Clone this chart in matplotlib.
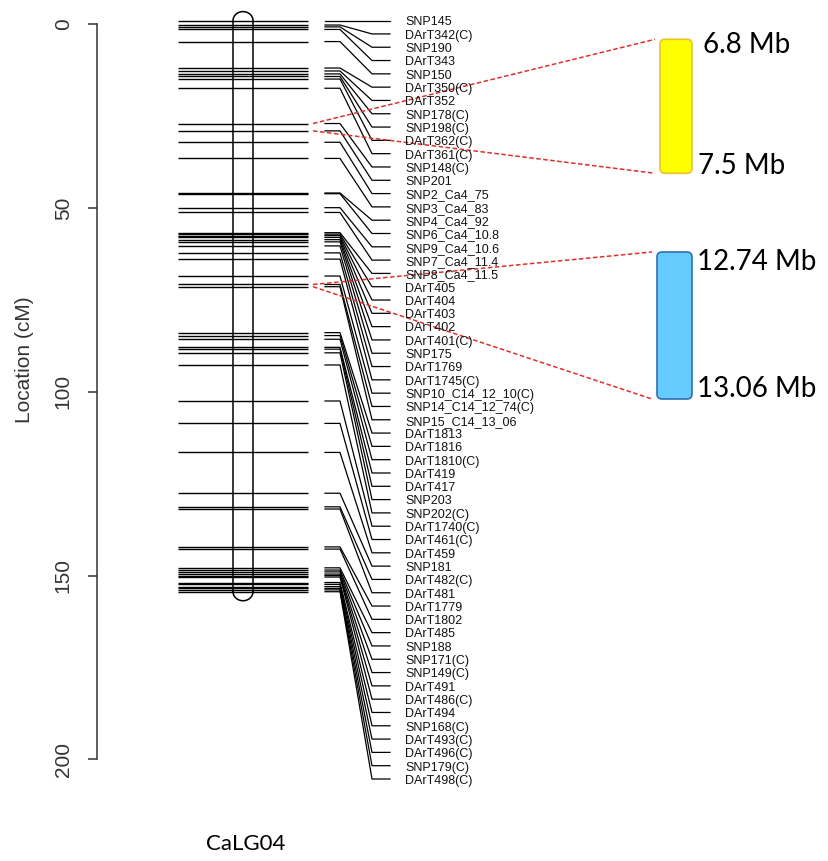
import numpy as np
import matplotlib
matplotlib.use("Agg")
import matplotlib.pyplot as plt
from matplotlib.patches import FancyBboxPatch

# marker names, top to bottom
markers = [
    "SNP145", "DArT342(C)", "SNP190", "DArT343", "SNP150", "DArT350(C)", "DArT352",
    "SNP178(C)", "SNP198(C)", "DArT362(C)", "DArT361(C)", "SNP148(C)", "SNP201",
    "SNP2_Ca4_75", "SNP3_Ca4_83", "SNP4_Ca4_92", "SNP6_Ca4_10.8", "SNP9_Ca4_10.6",
    "SNP7_Ca4_11.4", "SNP8_Ca4_11.5", "DArT405", "DArT404", "DArT403", "DArT402",
    "DArT401(C)", "SNP175", "DArT1769", "DArT1745(C)", "SNP10_C14_12_10(C)",
    "SNP14_C14_12_74(C)", "SNP15_C14_13_06", "DArT1813", "DArT1816", "DArT1810(C)",
    "DArT419", "DArT417", "SNP203", "SNP202(C)", "DArT1740(C)", "DArT461(C)",
    "DArT459", "SNP181", "DArT482(C)", "DArT481", "DArT1779", "DArT1802", "DArT485",
    "SNP188", "SNP171(C)", "SNP149(C)", "DArT491", "DArT486(C)", "DArT494",
    "SNP168(C)", "DArT493(C)", "DArT496(C)", "SNP179(C)", "DArT498(C)",
]

# map positions (cM)
positions = [
    -1.0, 0.2, 0.7, 1.4, 4.7, 11.9, 12.7, 13.5, 14.2, 14.9,
    17.4, 27.0, 29.0, 32.1, 36.5, 45.9, 46.1, 49.9, 51.2, 56.7,
    57.1, 57.5, 58.0, 58.6, 59.2, 60.3, 62.2, 63.9, 68.5, 70.8,
    71.4, 83.9, 84.7, 85.7, 87.9, 88.4, 89.4, 92.7, 102.5, 108.6,
    116.5, 127.6, 131.3, 131.9, 142.2, 142.8, 147.9, 148.5, 149.0, 149.6,
    150.0, 150.4, 151.9, 152.4, 153.0, 153.5, 153.9, 154.4,
]

# physical intervals (Mb) and the markers they link to
interval_labels = [("6.8 Mb", "7.5 Mb"), ("12.74 Mb", "13.06 Mb")]
interval_markers = [("SNP148(C)", "SNP201"), ("SNP14_C14_12_74(C)", "SNP15_C14_13_06")]

W, H = 829, 861
px_per_cm = 3.675
y0 = 24.3  # pixel row of 0 cM


def cm(py):
    return (py - y0) / px_per_cm


fig = plt.figure(figsize=(W / 100, H / 100), dpi=100)
ax = fig.add_axes([97 / W, 0, 1 - 97 / W, 1])
ax.set_xlim(97, W)
ax.set_ylim(cm(H), cm(0))

for s in ["top", "right", "bottom"]:
    ax.spines[s].set_visible(False)
ax.spines["left"].set_bounds(0, 200)
ax.spines["left"].set_color("#333333")
ax.spines["left"].set_linewidth(1.1)
ax.set_xticks([])
ax.set_yticks([0, 50, 100, 150, 200])
ax.tick_params(axis="y", length=6.5, width=1.1, color="#333333", pad=11,
               labelsize=15, labelcolor="#333333")
for lab in ax.get_yticklabels():
    lab.set_rotation(90)
    lab.set_va("center")
    lab.set_family("Liberation Sans")

fig.text(25 / W, 1 - 360 / H, "Location (cM)", rotation=90, ha="center", va="center",
         fontsize=15, color="#333333", family="Liberation Sans")

pos = np.array(positions)

# marker lines across the chromosome
ax.hlines(pos, 178, 308, color="black", lw=1.0)

# chromosome outline
cx, hw, cap = 243, 10, 2.45
ax.vlines([cx - hw, cx + hw], pos[0], pos[-1], color="black", lw=1.1)
t = np.linspace(0, np.pi, 60)
ax.plot(cx + hw * np.cos(t), pos[0] - cap * np.sin(t), color="black", lw=1.1)
ax.plot(cx + hw * np.cos(t), pos[-1] + cap * np.sin(t), color="black", lw=1.1)

# labels spread evenly, joined to their markers
lab_y = np.linspace(pos[0], cm(779), len(markers))
for p, q, name in zip(pos, lab_y, markers):
    ax.plot([325, 340, 372, 390], [p, p, q, q], color="black", lw=0.9)
    ax.text(405, q + 0.5, name, fontsize=9, va="center", ha="left",
            family="Liberation Sans", color="#111111")

# physical blocks
boxes = [
    dict(x=660, w=32, top=cm(39.3), bot=cm(173.3), fc="#FFFF00", ec="#E8C431"),
    dict(x=657, w=35, top=cm(252), bot=cm(399), fc="#66CCFF", ec="#2F6FAE"),
]
for b, (lt, lb), (m1, m2) in zip(boxes, interval_labels, interval_markers):
    ax.add_patch(FancyBboxPatch((b["x"], b["top"]), b["w"], b["bot"] - b["top"],
                                boxstyle="round,pad=0,rounding_size=5",
                                mutation_aspect=1 / px_per_cm,
                                fc=b["fc"], ec=b["ec"], lw=1.2))
    p1 = positions[markers.index(m1)]
    p2 = positions[markers.index(m2)]
    ax.plot([313, b["x"] - 5], [p1, b["top"]], color="#E0302C", lw=1.1,
            ls=(0, (3, 1.6)))
    ax.plot([313, b["x"] - 5], [p2, b["bot"]], color="#E0302C", lw=1.1,
            ls=(0, (3, 1.6)))

ax.text(703, cm(45), interval_labels[0][0], fontsize=20, family="Lato", va="center")
ax.text(698, cm(166), interval_labels[0][1], fontsize=20, family="Lato", va="center")
ax.text(697, cm(262), interval_labels[1][0], fontsize=20, family="Lato", va="center")
ax.text(697, cm(389), interval_labels[1][1], fontsize=20, family="Lato", va="center")

ax.text(246, cm(844), "CaLG04", fontsize=16, family="Lato", ha="center", va="center")

fig.savefig("out.png", dpi=100)
